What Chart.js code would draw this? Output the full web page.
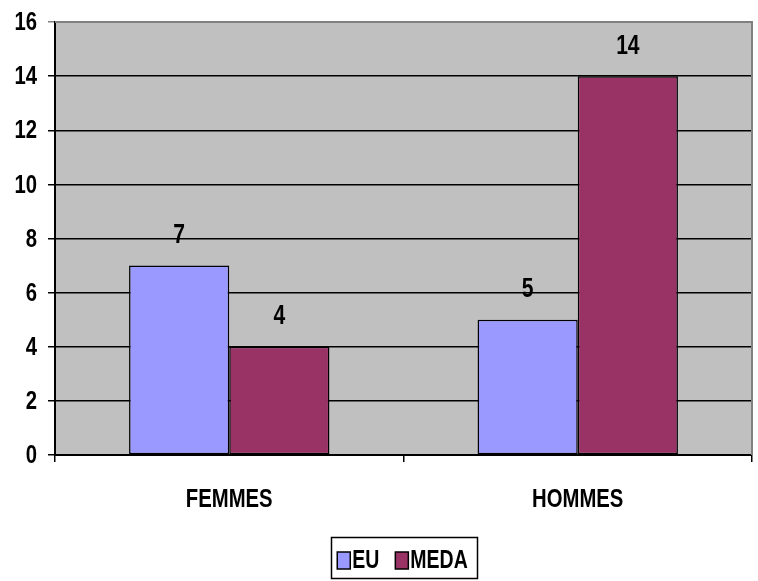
<!DOCTYPE html>
<html>
<head>
<meta charset="utf-8">
<script src="https://cdn.jsdelivr.net/npm/chart.js@4/dist/chart.umd.min.js"></script>
<style>
  html, body { margin: 0; padding: 0; background: #fff; }
  #wrap { width: 758px; height: 581px; }
</style>
</head>
<body>
<div id="wrap"><canvas id="chart"></canvas></div>
<script>
const categories = ['FEMMES', 'HOMMES'];
const euValues = [7, 5];
const medaValues = [4, 14];
const yTicks = [0, 2, 4, 6, 8, 10, 12, 14, 16];

const FONT = '"Liberation Sans Narrow", "Arial Narrow", "Liberation Sans", Arial, sans-serif';
const NARROW = 0.78; // squeeze text sideways to look like Arial Narrow

// draw bold, narrowed text
function narrowText(ctx, text, x, y, align, size) {
    ctx.save();
    ctx.font = 'bold ' + size + 'px ' + FONT;
    ctx.fillStyle = '#000';
    ctx.textAlign = align;
    ctx.textBaseline = 'middle';
    ctx.translate(x, y);
    ctx.scale(NARROW, 1);
    ctx.fillText(text, 0, 0);
    ctx.restore();
}

function narrowWidth(ctx, text, size) {
    ctx.save();
    ctx.font = 'bold ' + size + 'px ' + FONT;
    const w = ctx.measureText(text).width * NARROW;
    ctx.restore();
    return w;
}

// gray plot background + gray top/right frame
const plotFrame = {
    id: 'plotFrame',
    beforeDraw(chart) {
        const { ctx, chartArea: a } = chart;
        ctx.save();
        ctx.fillStyle = '#c0c0c0';
        ctx.fillRect(a.left, a.top, a.right - a.left, a.bottom - a.top);
        ctx.restore();
    },
    afterDraw(chart) {
        const { ctx, chartArea: a } = chart;
        ctx.save();
        ctx.strokeStyle = '#808080';
        ctx.lineWidth = 2;
        ctx.beginPath();
        ctx.moveTo(a.left, a.top);
        ctx.lineTo(a.right, a.top);
        ctx.lineTo(a.right, a.bottom);
        ctx.stroke();
        ctx.restore();
    }
};

// axis labels, bar values and legend
const texts = {
    id: 'texts',
    afterDraw(chart) {
        const { ctx } = chart;
        const xs = chart.scales.x, ys = chart.scales.y;

        ys.ticks.forEach(t => {
            narrowText(ctx, String(t.value), ys.right - 18, ys.getPixelForValue(t.value) + 1, 'right', 26);
        });
        categories.forEach((c, i) => {
            narrowText(ctx, c, xs.getPixelForTick(i), xs.top + 45, 'center', 26);
        });

        chart.data.datasets.forEach((ds, i) => {
            chart.getDatasetMeta(i).data.forEach((bar, j) => {
                narrowText(ctx, String(ds.data[j]), bar.x, bar.y - 30, 'center', 27);
            });
        });

        // legend
        const size = 25, sq = 13, gap = 2, itemGap = 16;
        const items = chart.data.datasets.map(ds => ({
            ds, w: sq + gap + narrowWidth(ctx, ds.label, size)
        }));
        const total = items.reduce((s, it) => s + it.w, 0) + itemGap * (items.length - 1);
        const cx = (chart.chartArea.left + chart.chartArea.right) / 2 - 1;
        const cy = 560;
        let x = cx - total / 2;
        ctx.save();
        ctx.strokeStyle = '#000';
        ctx.lineWidth = 1.5;
        ctx.strokeRect(Math.round(x - 6) + 0.5, 537.5, Math.round(total + 15), 41);
        items.forEach(it => {
            ctx.fillStyle = it.ds.backgroundColor;
            ctx.fillRect(x, cy - 8, sq, 17);
            ctx.strokeRect(x, cy - 8, sq, 17);
            narrowText(ctx, it.ds.label, x + sq + gap, cy + 1, 'left', size);
            x += it.w + itemGap;
        });
        ctx.restore();
    }
};

new Chart(document.getElementById('chart'), {
    type: 'bar',
    data: {
        labels: categories,
        datasets: [
            {
                label: 'EU',
                data: euValues,
                backgroundColor: '#9999ff',
                borderColor: '#000',
                borderWidth: 1.5,
                borderSkipped: false
            },
            {
                label: 'MEDA',
                data: medaValues,
                backgroundColor: '#993366',
                borderColor: '#000',
                borderWidth: 1.5,
                borderSkipped: false
            }
        ]
    },
    options: {
        responsive: true,
        maintainAspectRatio: false,
        animation: false,
        layout: { padding: { top: 22, right: 6, left: 0, bottom: 60 } },
        datasets: {
            bar: { categoryPercentage: 0.575, barPercentage: 1.0 }
        },
        scales: {
            x: {
                grid: {
                    drawOnChartArea: false,
                    drawTicks: true,
                    tickLength: 7,
                    color: '#000',
                    lineWidth: 1.5
                },
                border: { color: '#000', width: 2 },
                ticks: { display: false },
                afterFit(scale) { scale.height = 66; }
            },
            y: {
                min: 0,
                max: 16,
                afterBuildTicks(scale) {
                    scale.ticks = yTicks.map(v => ({ value: v }));
                },
                grid: {
                    color: ctx => (ctx.tick && ctx.tick.value === 16 ? '#808080' : '#000'),
                    lineWidth: 1.5,
                    tickLength: 7
                },
                border: { color: '#000', width: 2 },
                ticks: { display: false },
                afterFit(scale) { scale.width = 55; }
            }
        },
        plugins: {
            legend: { display: false },
            tooltip: { enabled: false }
        }
    },
    plugins: [plotFrame, texts]
});
</script>
</body>
</html>
